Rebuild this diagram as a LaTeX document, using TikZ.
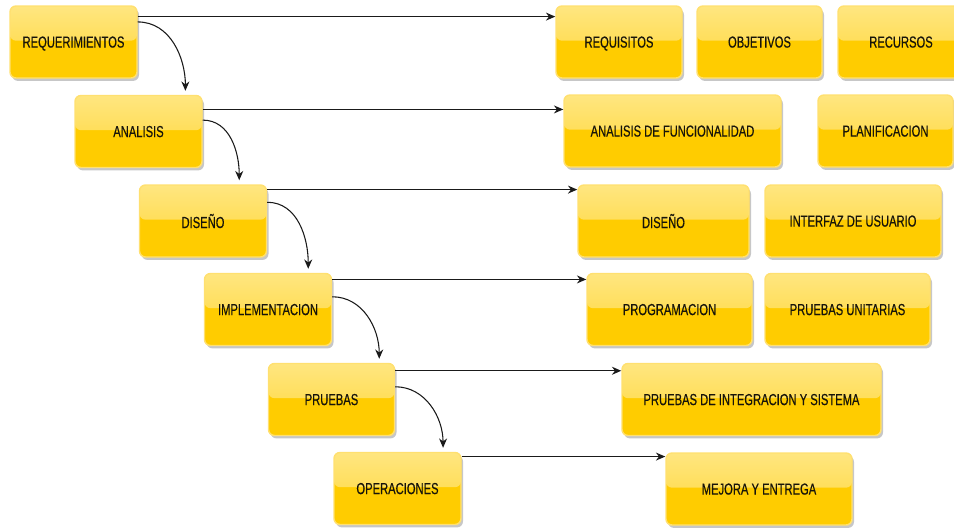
\documentclass[tikz,border=0pt]{standalone}
\usepackage{fontspec}
\setmainfont{Liberation Sans}[FakeStretch=0.70,FakeBold=0.35]
\usetikzlibrary{arrows.meta,shadows}

\definecolor{goldfill}{HTML}{FFCC00}
\definecolor{glosstop}{HTML}{FFE680}
\definecolor{glossbot}{HTML}{FFD633}
\definecolor{goldedge}{HTML}{FFE070}
\definecolor{labeltext}{HTML}{17140A}
\definecolor{linkcol}{HTML}{1A1A1A}

\begin{document}
\begin{tikzpicture}[x=0.75pt,y=-0.75pt,
  stage/.style={draw=goldedge, line width=1.1pt, rounded corners=4.5pt,
    fill=goldfill, minimum height=54pt, text=labeltext, inner sep=2pt,
    font=\fontsize{12}{14}\selectfont, text depth=0pt,
    drop shadow={shadow xshift=1.5pt, shadow yshift=-2.2pt, fill=black, opacity=0.22},
    path picture={\fill[top color=glosstop, bottom color=glossbot]
      (path picture bounding box.north west) rectangle ([yshift=1pt]path picture bounding box.east);}},
  w/.style={minimum width=#1*0.75pt},
  flow/.style={draw=linkcol, line width=0.95pt, -{Stealth[length=7pt,width=6pt]}},
  cascade/.style={draw=linkcol, line width=0.8pt, -{Stealth[length=7pt,width=6pt]}}
]
\useasboundingbox (0,0) rectangle (954,529);

% phases of the process
\node[stage, w=127] (req) at (73.5,42)   {REQUERIMIENTOS};
\node[stage, w=127] (ana) at (138.5,131.5) {ANALISIS};
\node[stage, w=127] (dis) at (203,221)   {DISEÑO};
\node[stage, w=127] (imp) at (268,309.5) {IMPLEMENTACION};
\node[stage, w=126] (pru) at (331.5,399.5) {PRUEBAS};
\node[stage, w=127] (ope) at (397.5,488.5) {OPERACIONES};

% activities of each phase
\node[stage, w=126] (rqs) at (619,42)    {REQUISITOS};
\node[stage, w=125] (obj) at (759.5,42)  {OBJETIVOS};
\node[stage, w=126] (rec) at (901,42)    {RECURSOS};
\node[stage, w=217] (adf) at (672.5,131) {ANALISIS DE FUNCIONALIDAD};
\node[stage, w=135] (pla) at (885.5,131) {PLANIFICACION};
\node[stage, w=171] (dsn) at (663.5,221) {DISEÑO};
\node[stage, w=176] (ifz) at (853,221)   {INTERFAZ DE USUARIO};
\node[stage, w=165] (prg) at (669.5,309.5) {PROGRAMACION};
\node[stage, w=165] (pun) at (847.5,309.5) {PRUEBAS UNITARIAS};
\node[stage, w=259] (pis) at (751.5,399.5) {PRUEBAS DE INTEGRACION Y SISTEMA};
\node[stage, w=186] (mye) at (759,489)   {MEJORA Y ENTREGA};

% links from each phase to its activities
\path ([yshift=-8.5pt]req.north east) coordinate (h1)
      ([yshift=-11pt]ana.north east)  coordinate (h2)
      ([yshift=-4pt]dis.north east)   coordinate (h3)
      ([yshift=-5pt]imp.north east)   coordinate (h4)
      ([yshift=-6pt]pru.north east)   coordinate (h5)
      ([yshift=-3.6pt]ope.north east) coordinate (h6);
\draw[flow] (h1) -- (h1 -| rqs.west);
\draw[flow] (h2) -- (h2 -| adf.west);
\draw[flow] (h3) -- (h3 -| dsn.west);
\draw[flow] (h4) -- (h4 -| prg.west);
\draw[flow] (h5) -- (h5 -| pis.west);
\draw[flow] (h6) -- (h6 -| mye.west);

% cascade from one phase to the next
\draw[cascade] ([yshift=-12.5pt]req.north east) to[out=0,in=90] ([xshift=-13pt,yshift=3pt]ana.north east);
\draw[cascade] ([yshift=-19pt]ana.north east)   to[out=0,in=90] ([xshift=-21pt,yshift=3pt]dis.north east);
\draw[cascade] ([yshift=-13.5pt]dis.north east) to[out=0,in=90] ([xshift=-18pt,yshift=3pt]imp.north east);
\draw[cascade] ([yshift=-18pt]imp.north east)   to[out=0,in=90] ([xshift=-12pt,yshift=3pt]pru.north east);
\draw[cascade] ([yshift=-18pt]pru.north east)   to[out=0,in=90] ([xshift=-14pt,yshift=3pt]ope.north east);
\end{tikzpicture}
\end{document}
